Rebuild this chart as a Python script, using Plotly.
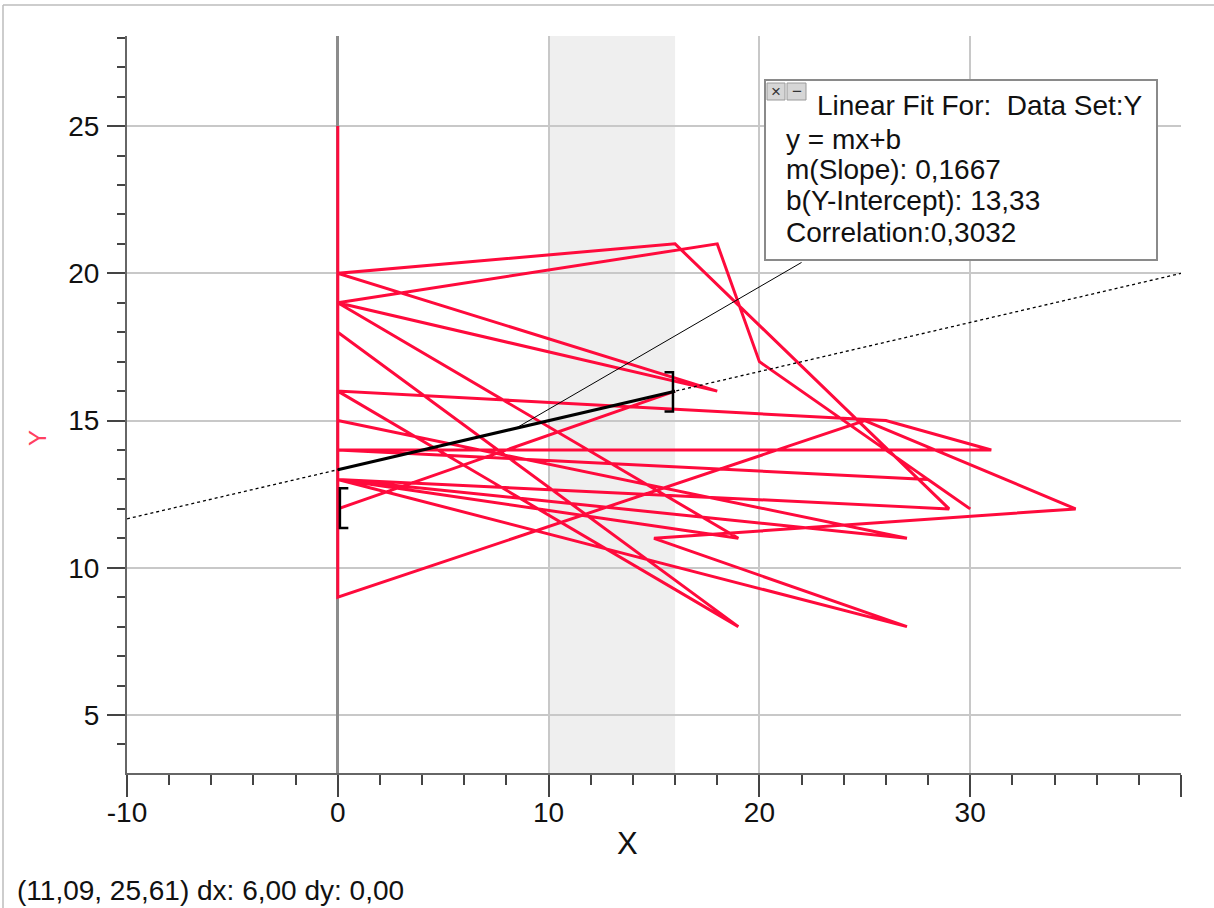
import plotly.graph_objects as go

# ---------------- data ----------------
path_x = [0, 0, 16, 29, 0, 27, 15, 35, 25, 0, 0, 19, 0, 0, 18, 0, 18, 20, 30, 28, 0, 31, 26, 0, 0, 27, 0, 19, 0, 0, 16]
path_y = [25, 20, 21, 12, 13, 8, 11, 12, 15, 9, 16, 8, 18, 20, 16, 19, 21, 17, 12, 13, 14, 14, 15, 16, 15, 11, 13, 11, 19, 12, 16]

slope = 0.1667
intercept = 13.33
fit_x = [0, 16]            # fitted range (thick line)
ext_x = [-10, 40]          # dotted extension
sel_x = [10, 16]           # shaded selection
leader_x = [8.45, 22.0]    # leader from fit line to the info box
leader_top_y = 20.37

bracket_left = dict(x=0, ylo=11.35, yhi=12.7)
bracket_right = dict(x=16, ylo=15.31, yhi=16.64)

x_tickvals = [-10, 0, 10, 20, 30, 40]
x_ticktext = ["-10", "0", "10", "20", "30", ""]
y_tickvals = [5, 10, 15, 20, 25]
y_ticktext = ["5", "10", "15", "20", "25"]

info_lines = ["y = mx+b", "m(Slope): 0,1667", "b(Y-Intercept): 13,33", "Correlation:0,3032"]
info_title = "Linear Fit For:  Data Set:Y"
status_text = "(11,09, 25,61) dx: 6,00 dy: 0,00"

# ---------------- layout geometry ----------------
W, H = 1214, 908
L, R, T, B = 127, 1181, 36, 773   # plot area in pixels


def px(xp):
    return (xp - L) / (R - L)


def py(yp):
    return (B - yp) / (B - T)


FONT = "Arial, Liberation Sans, sans-serif"
RED = "#FF0A3C"
FS = 28

fig = go.Figure()

# red data path
fig.add_trace(go.Scatter(x=path_x, y=path_y, mode="lines",
                         line=dict(color=RED, width=3), hoverinfo="skip"))

# dotted extension of the fit
fig.add_trace(go.Scatter(x=ext_x, y=[slope * v + intercept for v in ext_x], mode="lines",
                         line=dict(color="black", width=1.3, dash="dot"), hoverinfo="skip"))
# thick fitted segment
fig.add_trace(go.Scatter(x=fit_x, y=[slope * v + intercept for v in fit_x], mode="lines",
                         line=dict(color="black", width=3), hoverinfo="skip"))
# leader line
fig.add_trace(go.Scatter(x=leader_x, y=[slope * leader_x[0] + intercept, leader_top_y], mode="lines",
                         line=dict(color="black", width=1), hoverinfo="skip"))

# brackets
sx = 0.4
bl = bracket_left
fig.add_trace(go.Scatter(x=[bl["x"] + sx + 0.1, bl["x"] + 0.1, bl["x"] + 0.1, bl["x"] + sx + 0.1],
                         y=[bl["yhi"], bl["yhi"], bl["ylo"], bl["ylo"]], mode="lines",
                         line=dict(color="black", width=2.5), hoverinfo="skip"))
br = bracket_right
fig.add_trace(go.Scatter(x=[br["x"] - sx - 0.1, br["x"] - 0.1, br["x"] - 0.1, br["x"] - sx - 0.1],
                         y=[br["yhi"], br["yhi"], br["ylo"], br["ylo"]], mode="lines",
                         line=dict(color="black", width=2.5), hoverinfo="skip"))

shapes = []
# shaded selection
shapes.append(dict(type="rect", xref="x", yref="paper", x0=sel_x[0], x1=sel_x[1], y0=0, y1=1,
                   fillcolor="#EFEFEF", line=dict(width=0), layer="below"))
# outer window border
shapes.append(dict(type="line", xref="paper", yref="paper", x0=px(3), x1=px(W), y0=py(5), y1=py(5),
                   line=dict(color="#BDBDBD", width=1.5)))
shapes.append(dict(type="line", xref="paper", yref="paper", x0=px(3), x1=px(3), y0=py(5), y1=py(H),
                   line=dict(color="#BDBDBD", width=1.5)))
# info box
shapes.append(dict(type="rect", xref="paper", yref="paper", x0=px(765), x1=px(1157), y0=py(260), y1=py(80),
                   fillcolor="white", line=dict(color="#8A8A8A", width=2), layer="above"))
# buttons
shapes.append(dict(type="rect", xref="paper", yref="paper", x0=px(767), x1=px(785), y0=py(100), y1=py(83),
                   fillcolor="#D6D6D6", line=dict(color="#9A9A9A", width=1), layer="above"))
shapes.append(dict(type="rect", xref="paper", yref="paper", x0=px(787), x1=px(806), y0=py(100), y1=py(83),
                   fillcolor="#D6D6D6", line=dict(color="#9A9A9A", width=1), layer="above"))

annotations = []
TXT = "#111111"
annotations.append(dict(xref="paper", yref="paper", x=px(776), y=py(91.5), text="×", showarrow=False,
                        font=dict(family=FONT, size=17, color="#333"), xanchor="center", yanchor="middle"))
annotations.append(dict(xref="paper", yref="paper", x=px(796.5), y=py(91.5), text="−", showarrow=False,
                        font=dict(family=FONT, size=17, color="#333"), xanchor="center", yanchor="middle"))
annotations.append(dict(xref="paper", yref="paper", x=px(815), y=py(105), text=info_title, showarrow=False,
                        font=dict(family=FONT, size=FS, color=TXT), xanchor="left", yanchor="middle"))
for i, t in enumerate(info_lines):
    annotations.append(dict(xref="paper", yref="paper", x=px(784), y=py(139 + 31 * i), text=t, showarrow=False,
                            font=dict(family=FONT, size=FS, color=TXT), xanchor="left", yanchor="middle"))
# axis titles
annotations.append(dict(xref="paper", yref="paper", x=px(627), y=py(843), text="X", showarrow=False,
                        font=dict(family=FONT, size=31, color=TXT), xanchor="center", yanchor="middle"))
annotations.append(dict(xref="paper", yref="paper", x=px(38), y=py(438), text="Y", showarrow=False,
                        textangle=-90, font=dict(family=FONT, size=24, color="#FF4060"),
                        xanchor="center", yanchor="middle"))
# status text
annotations.append(dict(xref="paper", yref="paper", x=px(15), y=py(890), text=status_text, showarrow=False,
                        font=dict(family=FONT, size=FS, color=TXT), xanchor="left", yanchor="middle"))

fig.update_layout(
    width=W, height=H,
    margin=dict(l=L, r=W - R, t=T, b=H - B, pad=0),
    paper_bgcolor="white", plot_bgcolor="white",
    showlegend=False,
    shapes=shapes, annotations=annotations,
    xaxis=dict(range=[-10, 40], tickmode="array", tickvals=x_tickvals, ticktext=x_ticktext,
               ticks="outside", ticklen=22, tickwidth=2, tickcolor="#444",
               ticklabelstandoff=-9,
               minor=dict(tickmode="linear", tick0=0, dtick=2, ticks="outside", ticklen=10,
                          tickwidth=2, tickcolor="#444", showgrid=False),
               showgrid=True, gridcolor="#C8C8C8", gridwidth=1.5,
               zeroline=True, zerolinecolor="#8C8C8C", zerolinewidth=3,
               showline=True, linecolor="#666", linewidth=2,
               tickfont=dict(family=FONT, size=FS, color=TXT)),
    yaxis=dict(range=[3.03, 28.06], tickmode="array", tickvals=y_tickvals, ticktext=y_ticktext,
               ticks="outside", ticklen=18, tickwidth=2, tickcolor="#444",
               ticklabelstandoff=2,
               minor=dict(tickmode="linear", tick0=0, dtick=1, ticks="outside", ticklen=8,
                          tickwidth=2, tickcolor="#444", showgrid=False),
               showgrid=True, gridcolor="#C8C8C8", gridwidth=1.5,
               zeroline=False,
               showline=True, linecolor="#666", linewidth=2,
               tickfont=dict(family=FONT, size=FS, color=TXT)),
)

fig.write_html("out.html", config={"displayModeBar": False},
               post_script="document.body.style.margin='0';")
